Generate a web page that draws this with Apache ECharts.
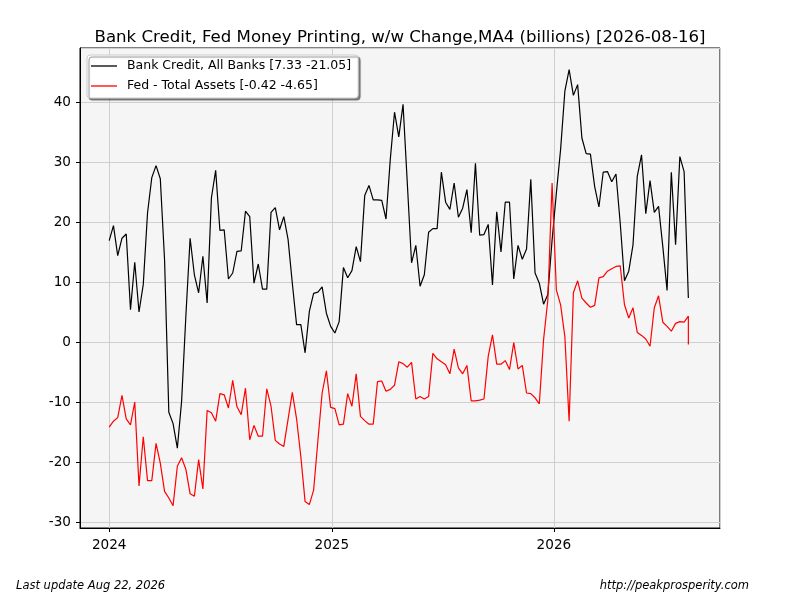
<!DOCTYPE html>
<html>
<head>
<meta charset="utf-8">
<script src="https://cdn.jsdelivr.net/npm/echarts@6/dist/echarts.min.js"></script>
<style>
html, body { margin: 0; padding: 0; background: #fff; }
#chart { width: 800px; height: 600px; }
</style>
</head>
<body>
<div id="chart"></div>
<script>
// weekly series, first week 2024-01-01
var firstWeek = '2024-01-01';
var bankCredit = [
    16.9, 19.4, 14.4, 17.3, 18.0, 5.4, 13.3, 5.0, 9.6, 21.5,
    27.4, 29.4, 27.2, 13.7, -11.7, -13.6, -17.7, -9.9, 4.3, 17.3,
    11.2, 8.2, 14.3, 6.5, 24.0, 28.6, 18.6, 18.7, 10.5, 11.5,
    15.1, 15.2, 21.8, 20.9, 9.8, 13.0, 8.8, 8.8, 21.6, 22.4,
    18.7, 20.9, 17.1, 9.8, 2.9, 2.9, -1.8, 5.1, 8.1, 8.3,
    9.2, 4.8, 2.6, 1.5, 3.4, 12.4, 10.7, 11.9, 15.9, 13.4,
    24.4, 26.1, 23.7, 23.7, 23.6, 20.5, 30.4, 38.3, 34.2, 39.6,
    26.5, 13.2, 16.1, 9.3, 11.2, 18.3, 18.9, 18.9, 28.3, 23.3,
    22.1, 26.5, 20.8, 22.3, 25.4, 18.2, 29.8, 17.8, 17.9, 19.6,
    9.5, 21.7, 15.0, 23.3, 23.3, 10.5, 16.1, 13.8, 15.5, 27.1,
    11.5, 9.8, 6.3, 7.9, 17.0, 24.8, 32.1, 41.8, 45.4, 41.1,
    42.9, 34.0, 31.4, 31.3, 25.9, 22.5, 28.3, 28.4, 26.7, 28.0,
    19.8, 10.2, 11.8, 16.2, 27.6, 31.2, 21.4, 26.9, 21.6, 22.6,
    15.9, 8.6, 28.3, 16.2, 30.9, 28.4, 7.33
];
var fedAssets = [
    -14.2, -13.2, -12.6, -8.9, -12.8, -13.8, -10.0, -24.0, -15.8, -23.1,
    -23.1, -16.9, -20.2, -24.9, -26.0, -27.3, -20.7, -19.3, -21.2, -25.3,
    -25.7, -19.6, -24.5, -11.4, -11.8, -13.2, -8.6, -8.8, -11.0, -6.4,
    -10.8, -12.1, -7.7, -16.3, -13.9, -15.7, -15.7, -7.8, -10.7, -16.4,
    -17.0, -17.4, -12.9, -8.4, -12.8, -19.1, -26.6, -27.1, -24.7, -16.5,
    -8.5, -4.8, -10.9, -11.1, -13.8, -13.7, -8.6, -10.7, -5.3, -12.4,
    -13.1, -13.7, -13.7, -6.6, -6.5, -8.2, -7.9, -7.2, -3.3, -3.6,
    -4.2, -3.4, -9.5, -9.1, -9.5, -9.1, -1.9, -2.8, -3.3, -3.8,
    -5.3, -1.2, -4.3, -5.3, -3.9, -9.8, -9.8, -9.7, -9.5, -2.4,
    1.2, -3.7, -3.7, -3.1, -4.6, -0.1, -4.5, -3.9, -8.5, -8.6,
    -9.3, -10.3, 0.4, 7.0, 26.5, 8.7, 6.2, 0.9, -13.2, 8.2,
    10.2, 7.3, 6.5, 5.8, 6.1, 10.7, 10.9, 11.8, 12.2, 12.6,
    12.7, 6.2, 4.0, 5.7, 1.6, 1.1, 0.5, -0.7, 5.7, 7.7,
    3.3, 2.6, 1.8, 3.1, 3.4, 3.3, 4.3
];
var fedLatest = -0.42;  // last print, same week as the final point

var DAY = 24 * 3600 * 1000;
var t0 = Date.parse(firstWeek + 'T00:00:00Z');
function weekDate(i) { return t0 + i * 7 * DAY; }

var bankData = bankCredit.map(function (v, i) { return [weekDate(i), v]; });
var fedData = fedAssets.map(function (v, i) { return [weekDate(i), v]; });
fedData.push([weekDate(fedAssets.length - 1), fedLatest]);

var font = 'DejaVu Sans';
var myChart = echarts.init(document.getElementById('chart'));
var option = {
    animation: false,
    useUTC: true,
    backgroundColor: '#fff',
    title: {
        text: 'Bank Credit, Fed Money Printing, w/w Change,MA4 (billions) [2026-08-16]',
        left: 'center',
        top: 24,
        textStyle: {fontFamily: font, fontSize: 16.6, fontWeight: 'normal', color: '#000'}
    },
    legend: {
        left: 87,
        top: 55,
        orient: 'vertical',
        icon: 'rect',
        backgroundColor: '#fff',
        borderColor: '#cccccc',
        borderWidth: 1,
        borderRadius: 3,
        shadowColor: 'rgba(0,0,0,0.45)',
        shadowOffsetX: 2,
        shadowOffsetY: 2,
        shadowBlur: 1,
        padding: [4, 7, 5, 4],
        itemGap: 6,
        itemWidth: 26,
        itemHeight: 1.3,
        textStyle: {fontFamily: font, fontSize: 12.5, color: '#000', lineHeight: 14, padding: [0, 0, 0, 5]},
        data: ['Bank Credit, All Banks [7.33 -21.05]', 'Fed - Total Assets [-0.42 -4.65]']
    },
    grid: {
        left: 80,
        right: 80,
        top: 48,
        bottom: 72,
        show: true,
        backgroundColor: '#f5f5f5',
        borderColor: '#000',
        borderWidth: 1
    },
    xAxis: {
        type: 'time',
        min: Date.parse('2023-11-14T00:00:00Z'),
        max: Date.parse('2026-10-01T00:00:00Z'),
        minInterval: 365 * DAY,
        axisLine: {show: true, onZero: false, lineStyle: {color: '#000', width: 1}},
        axisTick: {show: true, length: 4, lineStyle: {color: '#000'}},
        axisLabel: {
            formatter: '{yyyy}',
            showMinLabel: false,
            showMaxLabel: false,
            margin: 10,
            fontFamily: font,
            fontSize: 13.6,
            color: '#000'
        },
        splitLine: {show: true, lineStyle: {color: '#cfcfcf', width: 1}}
    },
    yAxis: {
        type: 'value',
        min: -31,
        max: 49,
        splitNumber: 8,
        axisLine: {show: true, onZero: false, lineStyle: {color: '#000', width: 1}},
        axisTick: {show: true, length: 4, lineStyle: {color: '#000'}},
        axisLabel: {
            showMinLabel: false,
            showMaxLabel: false,
            margin: 9,
            fontFamily: font,
            fontSize: 13.6,
            color: '#000'
        },
        splitLine: {show: true, lineStyle: {color: '#cfcfcf', width: 1}}
    },
    series: [
        {
            name: 'Bank Credit, All Banks [7.33 -21.05]',
            type: 'line',
            symbol: 'none',
            data: bankData,
            color: '#000',
            lineStyle: {color: '#000', width: 1.2}
        },
        {
            name: 'Fed - Total Assets [-0.42 -4.65]',
            type: 'line',
            symbol: 'none',
            data: fedData,
            color: '#ff0000',
            lineStyle: {color: '#ff0000', width: 1.2}
        }
    ],
    graphic: [
        {
            type: 'text',
            left: 16,
            top: 580,
            style: {text: 'Last update Aug 22, 2026', font: 'italic 11.5px "DejaVu Sans"', fill: '#000'}
        },
        {
            type: 'text',
            right: 51,
            top: 580,
            style: {text: 'http://peakprosperity.com', font: 'italic 11.5px "DejaVu Sans"', fill: '#000'}
        }
    ]
};
myChart.setOption(option);
</script>
</body>
</html>
